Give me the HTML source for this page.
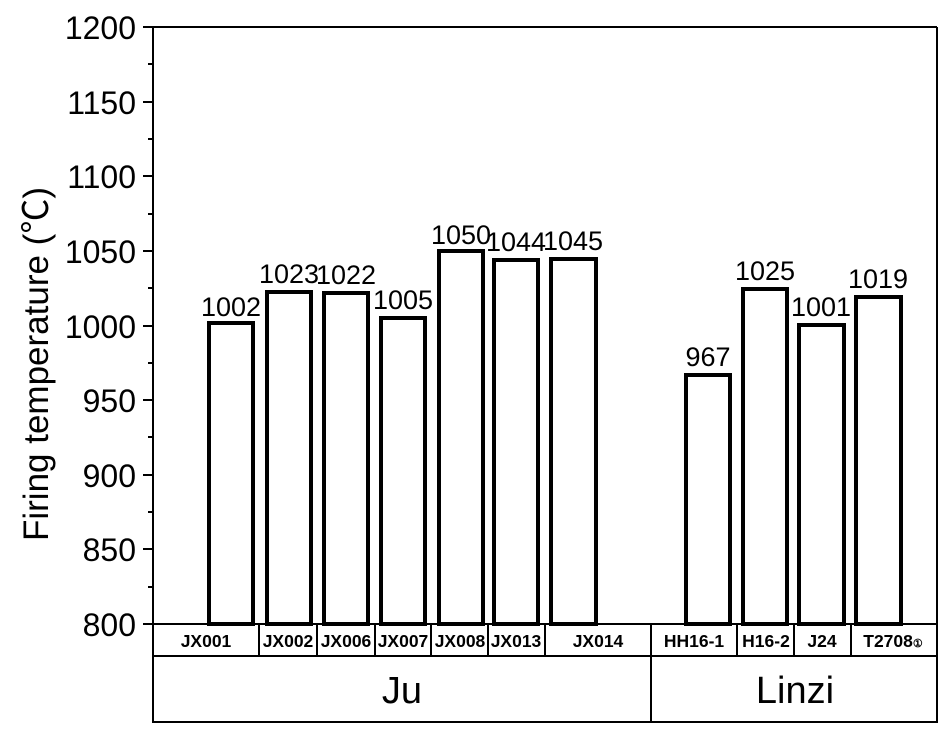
<!DOCTYPE html>
<html><head><meta charset="utf-8"><style>body{margin:0;background:#fff}svg{display:block}</style></head>
<body>
<svg width="944" height="729" xmlns="http://www.w3.org/2000/svg" font-family="Liberation Sans, Arial, sans-serif">
<g stroke="#000" stroke-width="2" fill="none">
<line x1="153" y1="27" x2="153" y2="723"/>
<line x1="143" y1="27" x2="937" y2="27"/>
<line x1="937" y1="27" x2="937" y2="723"/>
<line x1="143" y1="624" x2="937" y2="624"/>
<line x1="153" y1="656" x2="937" y2="656"/>
<line x1="153" y1="722" x2="937" y2="722"/>
<line x1="651" y1="624" x2="651" y2="722"/>
<line x1="259" y1="624" x2="259" y2="656"/>
<line x1="317" y1="624" x2="317" y2="656"/>
<line x1="375" y1="624" x2="375" y2="656"/>
<line x1="431" y1="624" x2="431" y2="656"/>
<line x1="488" y1="624" x2="488" y2="656"/>
<line x1="545" y1="624" x2="545" y2="656"/>
<line x1="737" y1="624" x2="737" y2="656"/>
<line x1="794" y1="624" x2="794" y2="656"/>
<line x1="851" y1="624" x2="851" y2="656"/>
<line x1="143" y1="102" x2="153" y2="102"/><line x1="143" y1="176" x2="153" y2="176"/>
<line x1="143" y1="251" x2="153" y2="251"/><line x1="143" y1="326" x2="153" y2="326"/>
<line x1="143" y1="400" x2="153" y2="400"/><line x1="143" y1="475" x2="153" y2="475"/>
<line x1="143" y1="549" x2="153" y2="549"/>
<line x1="148" y1="64" x2="153" y2="64"/><line x1="148" y1="139" x2="153" y2="139"/>
<line x1="148" y1="214" x2="153" y2="214"/><line x1="148" y1="288" x2="153" y2="288"/>
<line x1="148" y1="363" x2="153" y2="363"/><line x1="148" y1="437" x2="153" y2="437"/>
<line x1="148" y1="512" x2="153" y2="512"/><line x1="148" y1="587" x2="153" y2="587"/>
</g>
<g stroke="#000" stroke-width="4" fill="#fff">
<rect x="209" y="323" width="44" height="301"/>
<rect x="267" y="292" width="44" height="332"/>
<rect x="324" y="293" width="44" height="331"/>
<rect x="381" y="318" width="44" height="306"/>
<rect x="439" y="251" width="44" height="373"/>
<rect x="494" y="260" width="44" height="364"/>
<rect x="551" y="259" width="45" height="365"/>
<rect x="686" y="375" width="44" height="249"/>
<rect x="743" y="289" width="44" height="335"/>
<rect x="799" y="325" width="45" height="299"/>
<rect x="856" y="297" width="45" height="327"/>
</g>
<g font-size="27" text-anchor="middle" fill="#000">
<text x="231" y="316">1002</text><text x="289" y="283">1023</text>
<text x="346" y="284">1022</text><text x="403" y="309">1005</text>
<text x="461" y="244">1050</text><text x="516" y="251">1044</text>
<text x="573" y="250">1045</text><text x="708" y="366">967</text>
<text x="765" y="280">1025</text><text x="821" y="316">1001</text>
<text x="878" y="288">1019</text>
</g>
<g font-size="32" text-anchor="end" fill="#000">
<text x="136" y="39">1200</text><text x="136" y="114">1150</text>
<text x="136" y="188">1100</text><text x="136" y="263">1050</text>
<text x="136" y="338">1000</text><text x="136" y="412">950</text>
<text x="136" y="487">900</text><text x="136" y="561">850</text>
<text x="136" y="636">800</text>
</g>
<text transform="translate(48,364) rotate(-90)" font-size="35" text-anchor="middle" fill="#000">Firing temperature (<tspan font-family="Noto Sans CJK SC, sans-serif">℃</tspan>)</text>
<g font-size="17.5" font-weight="bold" text-anchor="middle" fill="#000">
<text x="206" y="647">JX001</text><text x="288" y="647">JX002</text>
<text x="346" y="647">JX006</text><text x="403" y="647">JX007</text>
<text x="460" y="647">JX008</text><text x="516" y="647">JX013</text>
<text x="598" y="647">JX014</text><text x="694" y="647">HH16-1</text>
<text x="766" y="647">H16-2</text><text x="822" y="647">J24</text>
<text x="893" y="647">T2708<tspan font-size="11">①</tspan></text>
</g>
<g font-size="38" text-anchor="middle" fill="#000">
<text x="402" y="703">Ju</text><text x="795" y="703">Linzi</text>
</g>
</svg>
</body></html>
